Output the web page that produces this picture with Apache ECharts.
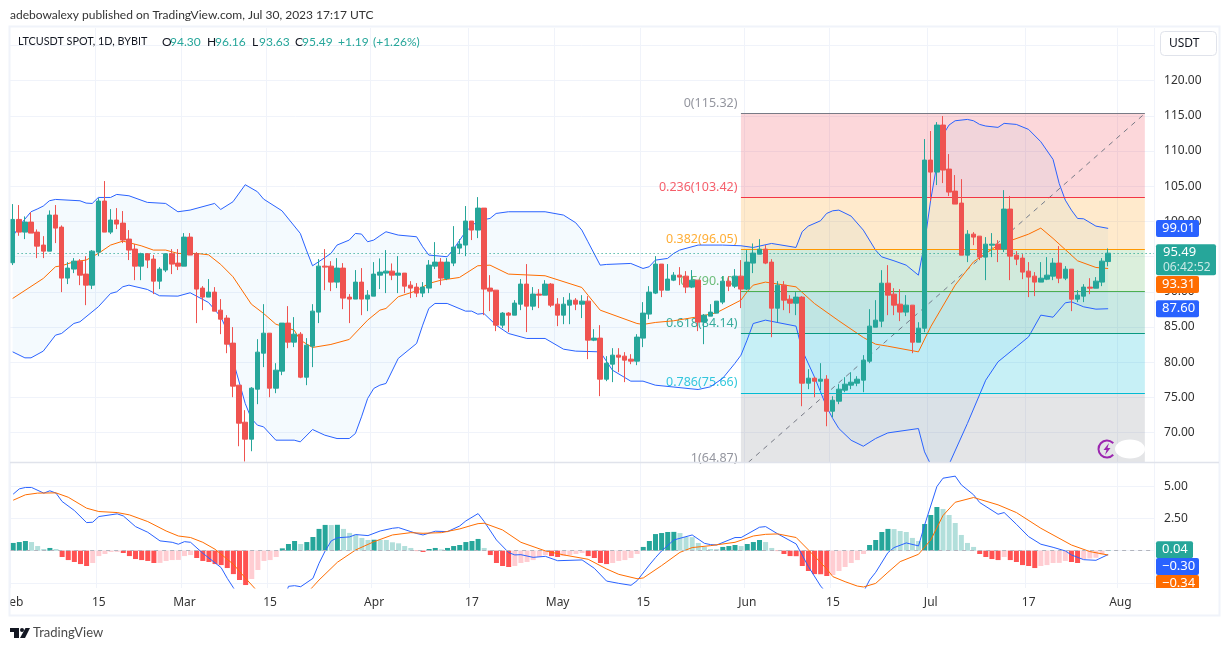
<!DOCTYPE html>
<html>
<head>
<meta charset="utf-8">
<style>html,body{margin:0;padding:0;background:#fff}#c{width:1230px;height:651px}</style>
<script src="https://cdn.jsdelivr.net/npm/echarts@6/dist/echarts.min.js"></script>
</head>
<body>
<div id="c"></div>
<script>
// [open, close, low, high], one per day from 1 Feb 2023
const candles = [
[94.13,100.28,93.80,102.46],[100.28,98.48,97.96,102.32],[98.48,99.90,97.49,100.71],[99.90,98.34,98.34,101.28],[98.48,96.49,94.79,98.86],
[96.64,95.78,94.79,97.91],[95.78,100.90,95.78,101.56],[100.90,99.05,96.92,102.32],[99.19,91.95,89.96,99.43],[91.95,93.37,91.10,94.22],
[93.23,94.36,92.66,94.79],[94.36,92.37,90.95,94.65],[92.52,90.95,88.11,95.07],[90.95,95.78,90.39,95.93],[95.64,102.89,95.07,103.31],
[102.89,98.48,98.48,105.73],[98.48,100.19,98.20,101.75],[100.19,99.62,98.91,101.89],[99.76,97.35,96.92,101.47],[97.49,95.93,94.51,98.77],
[96.07,93.65,91.66,96.78],[93.65,95.41,91.66,95.55],[95.41,94.51,93.37,95.50],[94.65,91.52,89.68,95.22],[91.52,93.23,90.39,93.51],
[93.09,95.41,92.80,95.50],[95.41,93.94,92.52,96.07],[94.08,93.65,93.09,96.07],[93.65,97.77,93.65,98.34],[97.77,95.22,95.22,98.34],
[95.41,90.39,85.56,95.64],[90.53,89.25,87.40,90.81],[89.25,89.96,89.25,91.81],[89.96,87.26,87.26,90.67],[87.40,86.12,83.99,88.97],
[86.27,82.57,81.29,86.69],[82.72,76.61,75.04,84.99],[76.75,71.35,68.08,76.75],[71.49,69.08,65.90,73.20],[69.08,76.32,67.37,76.47],
[76.18,81.44,74.05,83.28],[81.29,84.13,79.31,88.25],[84.13,76.32,75.04,84.13],[76.32,78.88,75.61,79.87],[78.74,85.56,78.17,85.56],
[85.56,82.86,82.00,87.97],[82.86,83.99,82.15,86.41],[83.99,77.88,77.74,84.28],[77.88,82.43,76.75,83.43],[82.29,87.26,79.31,88.25],
[87.12,93.65,85.56,94.65],[93.65,93.51,90.24,96.07],[93.65,91.38,90.10,94.36],[91.38,93.37,90.53,94.79],[93.37,89.11,87.54,94.08],
[89.25,88.97,85.56,89.68],[88.97,91.38,88.97,93.09],[91.38,88.97,86.69,93.37],[88.97,89.53,87.26,90.24],[89.39,92.52,89.39,94.22],
[92.37,92.80,90.39,94.74],[92.66,92.94,89.82,95.93],[92.94,92.37,91.66,94.03],[92.37,92.66,89.82,95.07],[92.66,90.81,89.82,92.66],
[90.95,90.53,89.11,91.52],[90.67,89.82,89.25,91.24],[89.82,90.67,89.25,91.38],[90.53,93.80,89.82,94.51],[93.65,94.22,93.23,97.06],
[94.22,91.95,90.95,94.79],[91.90,94.22,91.66,94.79],[94.08,96.35,93.65,99.33],[96.21,96.78,95.36,97.49],[96.64,100.05,95.07,102.18],
[100.05,98.77,97.35,100.05],[98.77,101.89,97.63,103.45],[101.89,90.39,86.69,101.89],[90.53,90.10,87.26,92.37],[90.24,85.27,84.42,90.24],
[85.27,86.98,84.85,87.12],[86.98,86.69,84.28,87.12],[86.69,88.40,86.69,88.82],[88.25,91.10,87.40,91.81],[91.10,87.97,84.28,93.94],
[87.97,89.68,87.40,90.67],[89.68,89.53,87.69,90.39],[89.53,91.10,89.53,91.66],[91.10,88.11,87.83,91.24],[88.25,86.69,85.13,89.11],
[86.69,88.25,85.41,89.25],[88.11,88.82,85.41,89.82],[88.82,88.25,87.40,89.11],[88.25,88.68,86.27,89.53],[88.68,83.14,80.44,89.39],
[83.14,83.43,83.00,84.70],[83.43,77.60,75.19,85.27],[77.60,79.87,77.32,80.87],[79.73,81.01,77.18,82.00],[81.01,80.73,78.60,82.00],
[80.87,80.30,77.18,81.44],[80.44,80.16,79.73,81.15],[80.16,83.57,79.59,83.99],[83.43,86.98,82.15,88.54],[86.84,89.96,86.12,90.81],
[89.82,93.94,89.68,95.07],[93.94,90.24,89.25,93.94],[90.24,91.81,90.24,93.94],[91.66,92.37,91.52,92.80],[92.37,92.09,90.95,93.51],
[92.23,90.67,89.82,92.94],[90.67,91.66,90.53,93.09],[91.66,85.70,84.42,91.66],[85.70,86.69,82.57,86.84],[86.55,87.12,86.55,88.25],
[86.98,88.68,86.98,88.68],[88.54,91.52,88.25,92.23],[91.52,90.81,90.10,92.23],[90.81,92.23,90.53,93.23],[92.23,90.39,87.69,94.51],
[90.39,94.22,90.24,95.93],[94.08,95.50,92.66,96.87],[95.35,96.06,95.35,97.48],[96.06,94.08,93.93,96.63],[94.22,87.68,83.56,94.64],
[87.68,90.95,85.69,91.52],[90.95,88.82,87.40,91.52],[88.96,88.39,86.97,89.53],[88.39,89.25,86.69,89.96],[89.25,77.03,73.76,89.39],
[77.03,77.74,76.18,79.02],[77.74,77.31,75.04,77.93],[77.31,77.60,76.04,79.87],[77.60,73.05,70.92,78.17],[73.05,74.61,72.20,75.18],
[74.47,76.18,74.05,76.89],[76.04,76.89,75.75,77.88],[76.75,77.17,76.18,78.59],[77.03,77.60,76.60,78.02],[77.46,80.30,75.75,81.01],
[80.15,85.13,79.87,87.54],[84.98,85.98,84.98,88.82],[85.84,91.23,84.98,93.08],[91.23,89.53,86.69,93.79],[89.67,88.11,86.69,90.52],
[88.25,87.12,85.84,90.38],[87.12,88.11,86.55,89.53],[88.11,82.85,81.29,88.11],[82.85,84.84,82.85,85.69],[84.84,108.71,84.27,111.69],
[108.71,107.00,102.88,112.83],[107.00,113.68,105.16,114.10],[113.68,107.29,105.44,114.96],[107.43,104.16,103.59,109.56],[104.30,102.46,102.46,106.58],
[102.60,95.21,95.21,106.00],[95.21,98.19,94.22,98.76],[98.19,97.77,96.63,98.48],[97.91,94.93,94.50,97.91],[94.93,96.77,91.66,97.77],
[96.63,96.77,94.93,98.34],[96.77,96.06,94.22,97.34],[96.06,101.75,95.64,104.44],[101.75,95.07,91.66,103.59],[95.21,94.64,93.79,95.78],
[94.79,92.80,91.80,95.35],[92.94,92.09,89.25,94.22],[92.23,91.38,89.39,92.80],[91.38,91.94,91.38,94.22],[91.80,92.37,91.66,94.93],
[92.23,94.08,91.66,94.79],[94.08,91.94,91.23,96.49],[91.94,93.22,91.66,93.65],[93.22,88.96,87.26,93.22],[88.96,89.53,88.54,90.24],
[89.39,90.67,88.54,91.09],[90.67,90.52,89.67,91.94],[90.52,91.52,90.52,92.09],[91.38,94.36,90.81,94.79],[94.30,95.49,93.63,96.16]
];
// [day number, value] readings at the points where each line bends
const bbUpper = [[0,97.8],[1,99.24],[2,100.33],[3,101.37],[4,101.75],[5,102.18],[6,102.93],[7,103.12],[11,102.93],[12,102.6],[13,102.55],[14,103.4],[16,103.4],[17,103.83],[19,103.64],[22,102.7],[25,102.55],[27,101.37],[29,101.61],[33,102.55],[34,101.7],[36,102.79],[38,105.21],[40,104.21],[41,103.17],[44,101.51],[47,98.29],[48,95.93],[49,93.7],[50,94.27],[52,95.45],[53,96.64],[55,97.35],[56,98.29],[57,98.2],[58,97.11],[59,97.35],[60,97.96],[61,98.53],[63,98.06],[66,97.82],[67,96.4],[68,95.22],[71,94.98],[72,96.02],[74,98.53],[76,100.09],[78,100.42],[79,101.13],[81,101.37],[87,101.37],[90,100.9],[92,99.81],[93,98.77],[94,97.11],[95,95.45],[96,93.79],[97,93.89],[101,94.03],[103,93.32],[104,93.56],[105,94.5],[107,94.74],[108,95.45],[109,95.93],[112,96.64],[116,96.64],[119,96.54],[121,96.3],[124,96.87],[128,96.3],[129,98.53],[130,99.33],[132,100.09],[133,101.13],[134,101.51],[135,101.6],[137,100.75],[139,98.76],[141,95.92],[142,94.97],[144,94.41],[146,93.79],[148,92.37],[149,96.87],[150,103.02],[151,108.0],[152,112.26],[153,113.68],[154,114.29],[156,114.48],[157,114.29],[158,113.77],[159,113.54],[161,113.35],[162,113.92],[164,113.77],[166,113.06],[168,111.31],[170,108.8],[171,105.39],[172,103.02],[173,101.6],[174,100.42],[175,100.37],[177,99.33],[179,99.01]];
const bbLower = [[0,81.48],[2,80.63],[3,80.63],[5,81.58],[7,83.85],[8,84.09],[10,85.51],[11,85.75],[14,87.88],[16,89.77],[17,90.0],[18,90.72],[19,90.95],[22,90.34],[24,89.44],[27,89.39],[29,89.87],[32,88.49],[34,86.46],[35,84.56],[36,80.3],[38,74.14],[39,72.01],[40,71.07],[41,70.83],[43,68.94],[46,68.94],[47,68.7],[49,70.45],[51,69.65],[53,69.17],[55,69.17],[56,69.88],[57,72.25],[58,74.85],[59,76.28],[60,76.75],[61,76.99],[63,80.54],[66,82.67],[67,85.27],[68,87.64],[69,88.35],[71,88.35],[74,87.26],[75,87.26],[76,86.83],[77,86.93],[79,85.27],[81,84.09],[84,83.38],[87,83.38],[90,81.86],[92,81.58],[96,81.48],[98,78.88],[101,77.32],[103,77.32],[105,76.75],[112,76.13],[114,76.51],[116,77.7],[118,79.83],[119,81.0],[120,83.14],[121,85.5],[123,85.98],[128,85.13],[129,81.72],[131,77.93],[133,73.67],[134,72.01],[135,70.59],[137,68.93],[139,68.08],[141,69.17],[143,69.97],[148,70.59],[149,67.28],[150,65.5],[151,63.0],[152,63.0],[153,65.5],[156,71.3],[159,77.46],[161,80.06],[162,80.77],[164,82.19],[166,83.61],[168,86.69],[170,86.4],[172,88.44],[173,88.58],[175,87.87],[177,87.54],[179,87.6]];
const bbBasis = [[0,89.06],[5,91.9],[7,93.56],[8,93.7],[10,94.27],[12,94.51],[14,95.45],[16,96.64],[18,97.2],[21,96.54],[23,95.93],[25,95.93],[27,95.45],[30,95.45],[32,95.26],[34,93.89],[36,92.14],[39,88.25],[41,86.93],[43,85.41],[46,84.56],[47,83.14],[49,82.1],[52,82.53],[55,83.24],[58,85.98],[60,87.4],[61,87.64],[63,89.3],[66,90.15],[68,91.19],[70,91.66],[73,92.04],[76,93.7],[78,93.79],[81,92.52],[87,92.28],[93,90.62],[94,89.53],[96,87.4],[102,85.51],[103,85.37],[105,85.65],[108,85.89],[112,86.46],[115,87.03],[119,88.82],[120,90.0],[121,90.95],[123,91.38],[128,90.71],[131,88.35],[135,85.88],[139,83.52],[141,82.57],[143,82.28],[148,81.48],[150,85.03],[154,90.95],[157,94.26],[161,96.63],[166,98.19],[168,99.05],[170,97.58],[174,94.41],[177,93.46],[179,93.31]];
const macdLine = [[0,4.39],[1,4.8],[2,4.91],[3,4.91],[5,4.47],[6,4.65],[7,4.47],[8,3.82],[10,3.12],[12,2.18],[13,2.21],[14,2.65],[17,2.86],[18,2.7],[20,1.87],[22,1.43],[24,0.76],[26,0.65],[27,0.5],[28,0.7],[29,0.65],[31,-0.2],[34,-1.32],[35,-2.15],[36,-2.88],[38,-4.4],[41,-5.2],[44,-4.3],[45,-2.77],[46,-2.72],[47,-2.8],[49,-2.15],[50,-0.98],[51,-0.02],[52,0.76],[53,1.0],[55,1.07],[56,1.25],[58,1.17],[60,1.53],[62,1.74],[63,1.79],[65,1.48],[66,1.33],[67,1.22],[69,1.51],[71,1.48],[73,1.92],[74,2.31],[76,2.88],[77,2.26],[79,0.83],[81,-0.15],[82,-0.33],[83,-0.31],[85,-0.52],[87,-0.44],[89,-0.78],[93,-0.72],[95,-1.37],[97,-2.36],[99,-2.54],[101,-2.69],[102,-2.33],[104,-1.11],[105,-0.54],[106,-0.02],[108,0.83],[111,1.22],[113,0.57],[114,0.47],[115,0.44],[118,1.02],[119,1.02],[122,1.82],[123,1.87],[125,1.3],[128,0.52],[130,-1.24],[132,-2.75],[133,-3.3],[135,-4.3],[137,-3.8],[139,-3.2],[140,-2.28],[141,-1.68],[143,-0.15],[144,0.24],[146,0.6],[148,0.37],[149,2.0],[151,4.98],[152,5.63],[154,5.79],[155,5.11],[157,4.34],[158,3.74],[161,2.83],[162,2.96],[164,2.05],[166,1.09],[168,0.5],[170,0.26],[172,-0.02],[173,-0.33],[175,-0.7],[177,-0.75],[179,-0.3]];
const macdSignal = [[0,3.92],[2,4.34],[4,4.47],[7,4.49],[9,4.15],[12,3.3],[14,3.04],[17,2.96],[19,2.78],[22,2.26],[25,1.53],[27,1.14],[29,1.02],[31,0.65],[33,0.11],[36,-1.06],[38,-2.15],[40,-3.19],[43,-4.4],[46,-4.4],[48,-3.3],[49,-2.8],[50,-2.28],[53,-0.9],[56,0.06],[59,0.7],[62,1.22],[65,1.4],[67,1.35],[70,1.4],[73,1.69],[75,1.97],[76,2.1],[77,2.13],[80,1.61],[83,0.65],[87,-0.02],[90,-0.33],[94,-0.67],[97,-1.42],[99,-1.84],[102,-2.18],[103,-2.12],[106,-1.16],[109,-0.13],[111,0.24],[114,0.39],[118,0.65],[121,1.14],[123,1.27],[125,1.3],[128,1.02],[130,0.06],[133,-1.42],[134,-2.02],[136,-2.41],[138,-2.75],[139,-2.82],[141,-2.54],[143,-1.68],[145,-0.85],[148,-0.28],[150,0.83],[152,2.73],[154,3.76],[157,4.13],[161,3.56],[164,2.96],[168,1.74],[173,0.44],[176,-0.07],[179,-0.34]];
const macdHist = [0.60,0.67,0.75,0.67,0.36,0.13,0.21,0.13,-0.49,-0.73,-0.88,-1.04,-1.19,-0.96,-0.42,-0.26,-0.10,-0.09,-0.18,-0.42,-0.65,-0.73,-0.80,-0.96,-0.95,-0.80,-0.73,-0.72,-0.42,-0.34,-0.57,-0.80,-0.88,-1.04,-1.12,-1.35,-1.82,-2.28,-2.67,-2.20,-1.50,-0.80,-0.73,-0.49,0.18,0.52,0.75,0.52,0.67,1.06,1.69,2.00,1.99,2.01,1.69,1.38,1.25,0.99,0.83,0.85,0.84,0.83,0.65,0.57,0.36,0.21,-0.03,-0.10,0.13,0.21,0.10,0.21,0.36,0.44,0.67,0.75,0.91,0.21,-0.34,-0.96,-1.19,-1.27,-1.19,-0.96,-0.88,-0.73,-0.49,-0.34,-0.42,-0.49,-0.42,-0.34,-0.26,-0.18,-0.42,-0.57,-0.96,-1.04,-0.96,-0.80,-0.73,-0.57,-0.26,0.29,0.75,1.29,1.37,1.45,1.46,1.37,1.06,1.05,0.60,0.29,0.13,0.12,0.29,0.36,0.44,0.36,0.52,0.67,0.83,0.67,0.21,-0.03,-0.26,-0.42,-0.43,-1.19,-1.58,-1.82,-1.83,-1.97,-1.89,-1.58,-1.27,-0.96,-0.73,-0.26,0.44,0.83,1.45,1.69,1.68,1.53,1.45,0.99,0.75,2.07,2.77,3.39,3.24,2.77,2.15,1.22,0.60,0.29,-0.26,-0.49,-0.65,-0.73,-0.49,-0.73,-0.88,-1.12,-1.19,-1.35,-1.19,-1.12,-0.96,-0.95,-0.80,-0.88,-0.96,-0.65,-0.60,-0.55,-0.30,0.04];
const fibLevels = [
 {ratio:'0',value:115.32,line:'#787b86',fill:'rgba(242,54,69,0.2)',text:'#787b86'},
 {ratio:'0.236',value:103.42,line:'#f23645',fill:'rgba(255,152,0,0.2)',text:'#f23645'},
 {ratio:'0.382',value:96.05,line:'#ff9800',fill:'rgba(76,175,80,0.2)',text:'#ff9800'},
 {ratio:'0.5',value:90.10,line:'#4caf50',fill:'rgba(8,153,129,0.22)',text:'#4caf50'},
 {ratio:'0.618',value:84.14,line:'#089981',fill:'rgba(0,188,212,0.22)',text:'#089981'},
 {ratio:'0.786',value:75.66,line:'#00bcd4',fill:'rgba(120,123,134,0.2)',text:'#00bcd4'},
 {ratio:'1',value:64.87,line:null,fill:null,text:'#787b86'}
];
const fibStartDay = 119, fibEndDay = 185;
const priceTicks = [70,75,80,85,90,95,100,105,110,115,120,125];
const priceLabels = [70,75,80,85,90,95,100,105,110,115,120];
const macdTicks = [-2.5,0,2.5,5];
const macdLabels = [2.5,5];
const tickLabels = {'02-01':'Feb','02-15':'15','03-01':'Mar','03-15':'15','04-01':'Apr','04-17':'17','05-01':'May','05-15':'15','06-01':'Jun','06-15':'15','07-01':'Jul','07-17':'17','08-01':'Aug'};
const lastClose = 95.49;
const dayCount = 187;

const FONT = '"Noto Sans", "Open Sans", sans-serif';
const HEAD = 'Lato, "Noto Sans", sans-serif';
const UP='#26a69a', DOWN='#ef5350', BLUE='#2962ff', ORANGE='#ff6d00', GRID='#f0f3fa';
const priceMin=65.84, priceMax=127.46, macdMin=-2.90, macdMax=6.81;

const categories=[];
for(let i=0;i<dayCount;i++){
  const d=new Date(Date.UTC(2023,1,1+i));
  categories.push(String(d.getUTCMonth()+1).padStart(2,'0')+'-'+String(d.getUTCDate()).padStart(2,'0'));
}
const isTick=(i,v)=>tickLabels[v]!==undefined;
const xBase=(gi)=>({type:'category',gridIndex:gi,data:categories,boundaryGap:true,
  axisLine:{show:false},axisTick:{show:false},
  splitLine:{show:true,interval:isTick,lineStyle:{color:GRID,width:1}},
  axisLabel:{show:gi===1,interval:isTick,formatter:v=>tickLabels[v]||'',color:'#333',fontFamily:FONT,fontSize:12,margin:9,hideOverlap:false}});
const yBase=(gi,min,max,ticks,labels)=>({type:'value',gridIndex:gi,position:'right',min,max,scale:true,
  axisLine:{show:false},axisTick:{show:false,customValues:ticks},
  splitLine:{show:true,lineStyle:{color:GRID,width:1}},
  axisLabel:{customValues:labels,formatter:v=>Number(v).toFixed(2),color:'#333',fontFamily:FONT,fontSize:12,margin:10}});
const lineS=(name,data,color,xi,z)=>({name,type:'line',data,xAxisIndex:xi,yAxisIndex:xi,showSymbol:false,symbol:'none',silent:true,smooth:false,clip:true,z:z||3,lineStyle:{color,width:1}});

const fibAreas=fibLevels.slice(0,-1).map((l,i)=>[
  {coord:[categories[fibStartDay],l.value],itemStyle:{color:l.fill}},
  {coord:[categories[fibEndDay],Math.max(fibLevels[i+1].value,priceMin)]}
]);
const fibLines=fibLevels.filter(l=>l.line).map(l=>[
  {coord:[categories[fibStartDay],l.value],lineStyle:{color:l.line,width:1,type:'solid'}},
  {coord:[categories[fibEndDay],l.value]}
]);

const chart=echarts.init(document.getElementById('c'),null,{renderer:'canvas'});
chart.setOption({
  animation:false,backgroundColor:'#fff',
  textStyle:{fontFamily:FONT},
  grid:[{left:9.6,top:28,width:1144.44,height:434},{left:9.6,top:463,width:1144.44,height:125}],
  xAxis:[xBase(0),xBase(1)],
  yAxis:[yBase(0,priceMin,priceMax,priceTicks,priceLabels),yBase(1,macdMin,macdMax,macdTicks,macdLabels)],
  series:[
    Object.assign(lineS('Fib trend',[[fibStartDay,fibLevels[6].value],[fibEndDay,fibLevels[0].value]],'#787b86',0,1),{
      lineStyle:{color:'#787b86',width:1,type:[5,5]},
      markArea:{silent:true,data:fibAreas},
      markLine:{silent:true,symbol:'none',label:{show:false},data:fibLines}
    }),
    {name:'Fib labels',type:'scatter',xAxisIndex:0,yAxisIndex:0,clip:false,silent:true,z:1,symbolSize:1,itemStyle:{color:'rgba(0,0,0,0)'},
      data:fibLevels.map(l=>({value:[fibStartDay,l.value],
        label:{show:true,position:'left',distance:3,offset:[0,-10],formatter:l.ratio+'('+l.value.toFixed(2)+')',color:l.text,fontFamily:FONT,fontSize:12.5}}))},
    {name:'BB band',type:'custom',xAxisIndex:0,yAxisIndex:0,clip:true,silent:true,z:2,data:[[0,90]],
      renderItem:(p,api)=>{
        const pts=bbUpper.map(a=>api.coord(a)).concat(bbLower.slice().reverse().map(a=>api.coord(a)));
        return {type:'polygon',shape:{points:pts},style:{fill:'rgba(33,150,243,0.05)'}};
      }},
    lineS('BB upper',bbUpper,BLUE,0),
    lineS('BB lower',bbLower,BLUE,0),
    lineS('BB basis',bbBasis,ORANGE,0),
    {name:'LTCUSDT',type:'candlestick',xAxisIndex:0,yAxisIndex:0,data:candles,barWidth:5,z:5,silent:true,clip:true,
      itemStyle:{color:UP,color0:DOWN,borderColor:UP,borderColor0:DOWN,borderWidth:1},
      markLine:{silent:true,symbol:'none',label:{show:false},lineStyle:{color:'#089981',type:[1,3],width:1},data:[{yAxis:lastClose}]}},
    {name:'Histogram',type:'bar',xAxisIndex:1,yAxisIndex:1,data:macdHist,barWidth:5,silent:true,z:2,
      itemStyle:{color:p=>{
        const v=macdHist[p.dataIndex],prev=p.dataIndex?macdHist[p.dataIndex-1]:0;
        if(v>=0) return v>=prev?'#26a69a':'#b2dfdb';
        return v<prev?'#ff5252':'#ffcdd2';
      }},
      markLine:{silent:true,symbol:'none',label:{show:false},lineStyle:{color:'#b2b5be',type:[4,4],width:1},data:[{yAxis:0}]}},
    lineS('MACD',macdLine,BLUE,1),
    lineS('Signal',macdSignal,ORANGE,1)
  ]
});

function tag(x,y,w,h,color,text){
  return [{type:'rect',z:50,shape:{x,y,width:w,height:h,r:2},style:{fill:color}},
    {type:'text',z:51,style:{x:x+6,y:y+h/2,text,fill:'#fff',font:'13px '+FONT,verticalAlign:'middle',textAlign:'left'}}];
}
const py=v=>chart.convertToPixel({yAxisIndex:0},v);
const my=v=>chart.convertToPixel({yAxisIndex:1},v);
const last=a=>a[a.length-1][1];
const tags=[].concat(
  tag(1156,py(last(bbUpper))-8.5,43,17,BLUE,last(bbUpper).toFixed(2)),
  [{type:'rect',z:50,shape:{x:1156,y:py(lastClose)-9,width:60,height:31,r:2},style:{fill:UP}},
   {type:'text',z:51,style:{x:1163,y:py(lastClose)-0.5,text:lastClose.toFixed(2),fill:'#fff',font:'13px '+FONT,verticalAlign:'middle'}},
   {type:'text',z:51,style:{x:1163,y:py(lastClose)+14,text:'06:42:52',fill:'rgba(255,255,255,0.75)',font:'12px '+FONT,verticalAlign:'middle'}}],
  tag(1156,276,43,17,ORANGE,last(bbBasis).toFixed(2)),
  tag(1156,py(last(bbLower))-8.5,43,17,BLUE,last(bbLower).toFixed(2)),
  tag(1156,my(0)-9.5,37,17,UP,macdHist[macdHist.length-1].toFixed(2)),
  tag(1156,558,43,17,BLUE,'\u2212'+Math.abs(last(macdLine)).toFixed(2)),
  tag(1156,575,43,17,ORANGE,'\u2212'+Math.abs(last(macdSignal)).toFixed(2))
);
const headerTokens=[
 {x:18,t:'LTCUSDT SPOT, 1D, BYBIT',c:'#131722',s:10.8},
 {x:162,t:'O',c:'#131722'},{x:170,t:'94.30',c:UP},
 {x:207,t:'H',c:'#131722'},{x:215,t:'96.16',c:UP},
 {x:252,t:'L',c:'#131722'},{x:259,t:'93.63',c:UP},
 {x:295,t:'C',c:'#131722'},{x:302,t:'95.49',c:UP},
 {x:338,t:'+1.19',c:UP},{x:373,t:'(+1.26%)',c:UP}
];
const gfx=[
  {type:'rect',z:40,shape:{x:0,y:588,width:9,height:26},style:{fill:'#fff'}},
  {type:'rect',z:52,shape:{x:1156,y:588,width:50,height:8},style:{fill:'#fff'}},
  {type:'rect',z:41,shape:{x:9.5,y:26.5,width:1210,height:589},style:{fill:'none',stroke:'#f0f3fa',lineWidth:2}},
  {type:'line',z:41,shape:{x1:10,y1:462.5,x2:1219,y2:462.5},style:{stroke:'#e0e3eb',lineWidth:1.5}},
  {type:'text',z:60,style:{x:10,y:15,text:'adebowalexy published on TradingView.com, Jul 30, 2023 17:17 UTC',fill:'#333',font:'12px '+HEAD,verticalAlign:'middle'}},
  {type:'rect',z:60,shape:{x:1160.5,y:31.5,width:56,height:24,r:4},style:{fill:'#fff',stroke:'#e0e3eb',lineWidth:1}},
  {type:'text',z:61,style:{x:1169,y:44,text:'USDT',fill:'#131722',font:'12px '+FONT,verticalAlign:'middle'}},
  // icon and smudge at the lower right of the pane
  {type:'ellipse',z:30,shape:{cx:1130,cy:449,rx:15,ry:9.5},style:{fill:'#fff'}},
  {type:'arc',z:31,shape:{cx:1107,cy:449,r:8.5,startAngle:0.75,endAngle:-0.75,clockwise:true},style:{fill:'none',stroke:'#9c27b0',lineWidth:2}},
  {type:'polygon',z:31,shape:{points:[[1109,443],[1103.5,450],[1106.5,450],[1105,455],[1110.5,448],[1107.5,448]]},style:{fill:'#9c27b0'}},
  // logo and wordmark
  {type:'polygon',z:60,shape:{points:[[10,628],[19,628],[19,638],[14,638],[14,632],[10,632]]},style:{fill:'#131722'}},
  {type:'circle',z:60,shape:{cx:22,cy:630,r:2},style:{fill:'#131722'}},
  {type:'polygon',z:60,shape:{points:[[25.5,628],[30,628],[25,638],[20,638]]},style:{fill:'#131722'}},
  {type:'text',z:60,style:{x:33,y:633,text:'TradingView',fill:'#4a4a4a',font:'13px '+HEAD,verticalAlign:'middle'}}
].concat(tags,headerTokens.map(h=>({type:'text',z:60,style:{x:h.x,y:42,text:h.t,fill:h.c,font:(h.s||12)+'px '+HEAD,verticalAlign:'middle'}})));
chart.setOption({graphic:{elements:gfx}});
</script>
</body>
</html>
